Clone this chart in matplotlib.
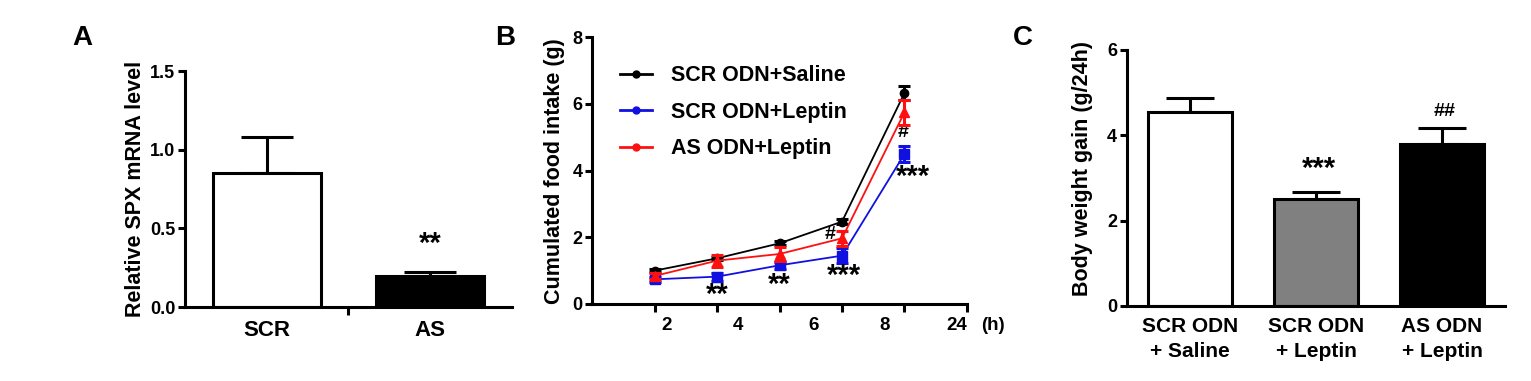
import matplotlib
matplotlib.use('Agg')
import matplotlib.pyplot as plt
from matplotlib.lines import Line2D

plt.rcParams['font.family'] = ['Liberation Sans', 'DejaVu Sans']
plt.rcParams['font.weight'] = 'bold'
plt.rcParams['axes.labelweight'] = 'bold'

# ---- data ----
# panel A
a_groups = ['SCR', 'AS']
a_means = [0.85, 0.20]
a_errs = [0.23, 0.025]
a_colors = ['white', 'black']

# panel B
hours = ['2', '4', '6', '8', '24']
saline = [1.00, 1.37, 1.82, 2.47, 6.33]
saline_err = [0.05, 0.05, 0.06, 0.08, 0.20]
leptin = [0.74, 0.82, 1.16, 1.45, 4.50]
leptin_err = [0.08, 0.12, 0.10, 0.22, 0.25]
as_leptin = [0.84, 1.30, 1.50, 1.97, 5.75]
as_leptin_err = [0.08, 0.18, 0.20, 0.22, 0.38]

# panel C
c_groups = ['SCR ODN\n+ Saline', 'SCR ODN\n+ Leptin', 'AS ODN\n+ Leptin']
c_means = [4.55, 2.51, 3.80]
c_errs = [0.33, 0.15, 0.36]
c_colors = ['white', '#808080', 'black']

fig = plt.figure(figsize=(15.31, 3.81), dpi=100)
axA = fig.add_axes([0.1208, 0.1942, 0.2136, 0.6194])
axB = fig.add_axes([0.3867, 0.2021, 0.2449, 0.7000])
axC = fig.add_axes([0.7361, 0.1969, 0.2469, 0.6719])

lw = 2.2


def style(ax):
    for s in ['top', 'right']:
        ax.spines[s].set_visible(False)
    for s in ['left', 'bottom']:
        ax.spines[s].set_linewidth(lw)
    ax.tick_params(axis='y', direction='out', length=5, width=lw, labelsize=13, pad=2)


# ---- A ----
xa = range(len(a_groups))
axA.bar(xa, a_means, width=0.66, color=a_colors, edgecolor='black', linewidth=lw, zorder=2)
axA.errorbar(xa, a_means, yerr=[[0, 0], a_errs], fmt='none', ecolor='black',
             elinewidth=lw, capsize=19, capthick=lw, zorder=1)
style(axA)
axA.set_xlim(-0.5, 1.5)
axA.set_ylim(0, 1.5)
axA.set_yticks([0, 0.5, 1.0, 1.5])
axA.set_yticklabels(['0.0', '0.5', '1.0', '1.5'])
axA.set_xticks(list(xa))
axA.set_xticklabels(a_groups, fontsize=16)
axA.tick_params(axis='x', length=0, pad=9)
axA.set_xticks([0.5], minor=True)
axA.tick_params(axis='x', which='minor', length=6, width=lw)
axA.set_ylabel('Relative SPX mRNA level', fontsize=15.5)
axA.yaxis.set_label_coords(-0.119, 0.5)
axA.text(1, 0.40, '**', ha='center', va='center', fontsize=21)

# ---- B ----
xb = [1, 2, 3, 4, 5]
axB.errorbar(xb, saline, yerr=saline_err, color='black', marker='o', markersize=6,
             linewidth=1.3, elinewidth=2.2, capsize=4, capthick=2.2, zorder=3)
axB.errorbar(xb, leptin, yerr=leptin_err, color='#1010e0', marker='s', markersize=7,
             linewidth=1.3, elinewidth=2.2, capsize=4, capthick=2.2, zorder=3)
axB.errorbar(xb, as_leptin, yerr=as_leptin_err, color='#ff1010', marker='^', markersize=7,
             linewidth=1.3, elinewidth=2.2, capsize=4, capthick=2.2, zorder=4)
style(axB)
axB.set_xlim(0, 6)
axB.set_ylim(0, 8)
axB.set_yticks([0, 2, 4, 6, 8])
axB.set_xticks([1, 2, 3, 4, 5, 6])
axB.set_xticklabels([])
axB.tick_params(axis='x', direction='out', length=6, width=lw)
hour_label_x = [1.19, 2.33, 3.54, 4.69, 5.84]
for xp, h in zip(hour_label_x, hours):
    axB.text(xp, -0.079, h, transform=axB.get_xaxis_transform(), ha='center',
             va='center', fontsize=13.5)
axB.text(6.41, -0.079, '(h)', transform=axB.get_xaxis_transform(), ha='center',
         va='center', fontsize=13.5)
axB.set_ylabel('Cumulated food intake (g)', fontsize=15.5)
axB.yaxis.set_label_coords(-0.072, 0.5)
for xp, yp, s in [(2.0, 0.28, '**'), (2.99, 0.58, '**'), (4.03, 0.85, '***'),
                  (5.13, 3.80, '***')]:
    axB.text(xp, yp, s, ha='center', va='center', fontsize=21)
for xp, yp in [(3.81, 2.07), (4.98, 5.13)]:
    axB.text(xp, yp, '#', ha='center', va='center', fontsize=14)
handles = [Line2D([], [], color=c, marker='o', markersize=5, linewidth=2)
           for c in ['black', '#1010e0', '#ff1010']]
axB.legend(handles, ['SCR ODN+Saline', 'SCR ODN+Leptin', 'AS ODN+Leptin'],
           loc='upper left', bbox_to_anchor=(0.074, 0.895), frameon=False,
           fontsize=15.5, handlelength=1.5, handletextpad=0.9, labelspacing=0.72,
           borderaxespad=0, borderpad=0)

# ---- C ----
xc = range(len(c_groups))
axC.bar(xc, c_means, width=0.67, color=c_colors, edgecolor='black', linewidth=lw, zorder=2)
axC.errorbar(xc, c_means, yerr=[[0, 0, 0], c_errs], fmt='none', ecolor='black',
             elinewidth=lw, capsize=17, capthick=lw, zorder=1)
style(axC)
axC.set_xlim(-0.5, 2.5)
axC.set_ylim(0, 6)
axC.set_yticks([0, 2, 4, 6])
axC.set_xticks(list(xc))
axC.set_xticklabels(c_groups, fontsize=15, linespacing=1.4)
axC.tick_params(axis='x', length=0, pad=8)
axC.set_xticks([1], minor=True)
axC.tick_params(axis='x', which='minor', length=6, width=lw)
axC.set_ylabel('Body weight gain (g/24h)', fontsize=15.5)
axC.yaxis.set_label_coords(-0.09, 0.537)
axC.text(1.02, 3.22, '***', ha='center', va='center', fontsize=21)
axC.text(2.02, 4.55, '##', ha='center', va='center', fontsize=14)

# panel letters
for xf, s in [(0.0536, 'A'), (0.33, 'B'), (0.668, 'C')]:
    fig.text(xf, 0.90, s, ha='center', va='center', fontsize=20)

fig.savefig('out.png', dpi=100)
